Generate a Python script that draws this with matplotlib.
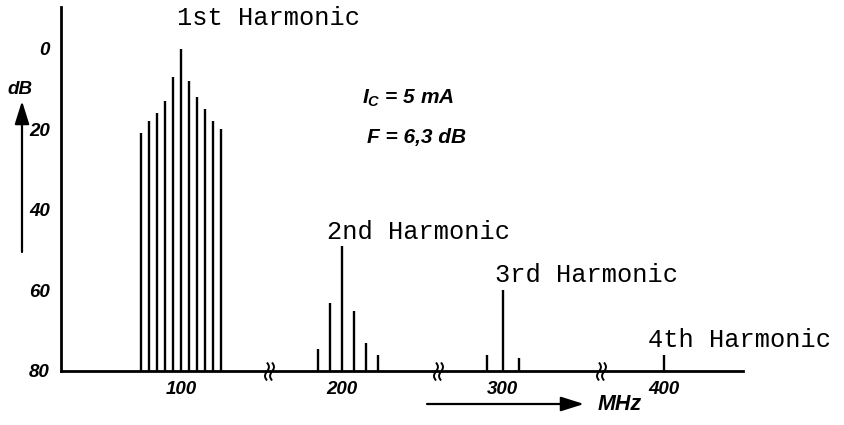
import numpy as np
import matplotlib
matplotlib.use("Agg")
import matplotlib.pyplot as plt
from matplotlib.patches import FancyArrowPatch
from matplotlib.path import Path

# ---- data ----
h1_freq = [75, 80, 85, 90, 95, 100, 105, 110, 115, 120, 125]
h1_db = [21, 18, 16, 13, 7, 0, 8, 12, 15, 18, 20]
h2_freq = [185, 192.5, 200, 207.5, 215, 222.5]
h2_db = [74.5, 63, 49, 65, 73, 76]
h3_freq = [290, 300, 310]
h3_db = [76, 60, 76.7]
h4_freq = [400]
h4_db = [76]

x_ticks = [100, 200, 300, 400]
y_ticks = [0, 20, 40, 60, 80]
break_pos = [155, 260, 361]
harmonic_labels = ["1st Harmonic", "2nd Harmonic", "3rd Harmonic", "4th Harmonic"]

LBL = dict(family=["Liberation Sans", "DejaVu Sans"], weight="bold", style="italic")
MONO = dict(family=["Liberation Mono", "DejaVu Sans Mono"])

plt.rcParams["mathtext.fontset"] = "custom"
plt.rcParams["mathtext.rm"] = "Liberation Sans:italic:bold"
plt.rcParams["mathtext.it"] = "Liberation Sans:italic:bold"

fig = plt.figure(figsize=(8.44, 4.25), dpi=100)
ax = fig.add_axes([61 / 844, (425 - 371) / 425, (743 - 61) / 844, (371 - 7) / 425])

for fr, db in [(h1_freq, h1_db), (h2_freq, h2_db), (h3_freq, h3_db), (h4_freq, h4_db)]:
    ax.vlines(fr, 80, db, color="black", lw=1.7)

ax.set_xlim(25.6, 449.2)
ax.set_ylim(80, -10.4)
for s in ["top", "right"]:
    ax.spines[s].set_visible(False)
ax.spines["left"].set_linewidth(2)
ax.spines["bottom"].set_linewidth(2)
ax.set_xticks(x_ticks)
ax.set_xticklabels([str(v) for v in x_ticks], fontsize=13.5, **LBL)
ax.set_yticks(y_ticks)
ax.set_yticklabels([str(v) for v in y_ticks], fontsize=13.5, **LBL)
ax.tick_params(axis="both", length=0)
ax.tick_params(axis="x", pad=7)
ax.tick_params(axis="y", pad=8)

# axis break marks: custom marker made of two small S-curves
t = np.linspace(-1, 1, 15)
verts, codes = [], []
for dx in (-0.28, 0.28):
    xs = dx + 0.22 * np.sin(np.pi * t)
    for i, (xx, yy) in enumerate(zip(xs, t)):
        verts.append((xx, yy))
        codes.append(Path.MOVETO if i == 0 else Path.LINETO)
break_marker = Path(verts, codes)
ax.plot(break_pos, [80] * len(break_pos), ls="none", marker=break_marker,
        markersize=13, markerfacecolor="none", markeredgecolor="black",
        markeredgewidth=1.4, clip_on=False, zorder=5)

# harmonic labels
ax.text(97.6, -7.7, harmonic_labels[0], fontsize=18.3, ha="left", va="center", **MONO)
ax.text(190.8, 45.5, harmonic_labels[1], fontsize=18.3, ha="left", va="center", **MONO)
ax.text(295.1, 56.1, harmonic_labels[2], fontsize=18.3, ha="left", va="center", **MONO)
ax.text(390.2, 72.3, harmonic_labels[3], fontsize=18.3, ha="left", va="center", **MONO)

# parameters
ax.text(212.5, 12.2, r"$\mathrm{I_C}$ = 5 mA", fontsize=15, ha="left", va="center", **LBL)
ax.text(215.6, 21.9, "F = 6,3 dB", fontsize=15, ha="left", va="center", **LBL)

# axis unit arrows
fig.text(20 / 844, 1 - 90 / 425, "dB", fontsize=13.5, ha="center", va="center", **LBL)
arrow_style = "-|>,head_length=0.7,head_width=0.22"
fig.patches.append(FancyArrowPatch(
    (22 / 844, 1 - 252 / 425), (22 / 844, 1 - 101 / 425),
    transform=fig.transFigure, arrowstyle=arrow_style,
    mutation_scale=20, color="black", lw=1.6, shrinkA=0, shrinkB=0))
fig.patches.append(FancyArrowPatch(
    (427 / 844, 1 - 404 / 425), (584 / 844, 1 - 404 / 425),
    transform=fig.transFigure, arrowstyle=arrow_style,
    mutation_scale=20, color="black", lw=1.6, shrinkA=0, shrinkB=0))
fig.text(620 / 844, 1 - 405 / 425, "MHz", fontsize=15.5, ha="center", va="center", **LBL)

fig.savefig("out.png", dpi=100)
